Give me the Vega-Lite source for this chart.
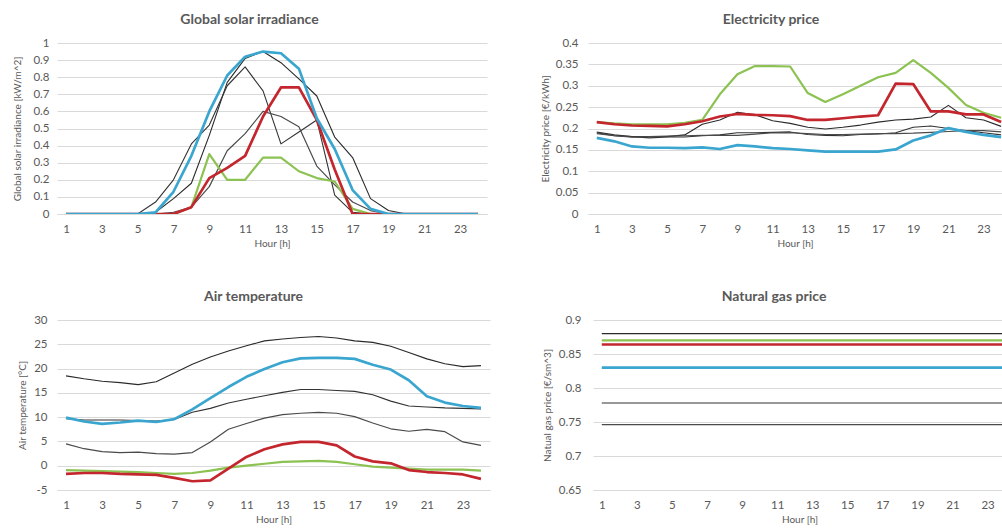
{
  "$schema": "https://vega.github.io/schema/vega-lite/v6.json",
  "background": "white",
  "padding": {"left": 12, "top": 13, "right": 0, "bottom": 0},
  "config": {
    "font": "Lato",
    "view": {"stroke": null},
    "axis": {"labelFont": "Lato", "labelFontSize": 11.5, "labelColor": "#595959", "titleFont": "Lato", "titleFontSize": 10, "titleFontWeight": "normal", "titleColor": "#595959", "ticks": false, "gridColor": "#d9d9d9", "domain": false, "format": "~g"},
    "axisX": {"domain": true, "domainColor": "#d9d9d9", "grid": false, "labelPadding": 9, "titlePadding": 4, "labelAngle": 0},
    "title": {"font": "Lato", "fontSize": 14, "fontWeight": "bold", "color": "#595959", "anchor": "middle", "frame": "bounds", "offset": 10},
    "line": {"strokeJoin": "round"}
  },
  "datasets": {
    "solar": [
      {"hour": 1, "K1": 0, "K2": 0, "K3": 0, "Green": 0, "Red": 0, "Blue": 0},
      {"hour": 2, "K1": 0, "K2": 0, "K3": 0, "Green": 0, "Red": 0, "Blue": 0},
      {"hour": 3, "K1": 0, "K2": 0, "K3": 0, "Green": 0, "Red": 0, "Blue": 0},
      {"hour": 4, "K1": 0, "K2": 0, "K3": 0, "Green": 0, "Red": 0, "Blue": 0},
      {"hour": 5, "K1": 0, "K2": 0, "K3": 0, "Green": 0, "Red": 0, "Blue": 0},
      {"hour": 6, "K1": 0.01, "K2": 0.07, "K3": 0, "Green": 0, "Red": 0, "Blue": 0.01},
      {"hour": 7, "K1": 0.09, "K2": 0.2, "K3": 0.01, "Green": 0, "Red": 0, "Blue": 0.13},
      {"hour": 8, "K1": 0.18, "K2": 0.41, "K3": 0.04, "Green": 0.04, "Red": 0.04, "Blue": 0.34},
      {"hour": 9, "K1": 0.46, "K2": 0.52, "K3": 0.16, "Green": 0.35, "Red": 0.21, "Blue": 0.6},
      {"hour": 10, "K1": 0.77, "K2": 0.75, "K3": 0.37, "Green": 0.2, "Red": 0.27, "Blue": 0.81},
      {"hour": 11, "K1": 0.91, "K2": 0.86, "K3": 0.47, "Green": 0.2, "Red": 0.34, "Blue": 0.92},
      {"hour": 12, "K1": 0.95, "K2": 0.72, "K3": 0.6, "Green": 0.33, "Red": 0.57, "Blue": 0.95},
      {"hour": 13, "K1": 0.885, "K2": 0.41, "K3": 0.57, "Green": 0.33, "Red": 0.74, "Blue": 0.94},
      {"hour": 14, "K1": 0.79, "K2": 0.48, "K3": 0.51, "Green": 0.25, "Red": 0.74, "Blue": 0.85},
      {"hour": 15, "K1": 0.69, "K2": 0.55, "K3": 0.28, "Green": 0.21, "Red": 0.55, "Blue": 0.56},
      {"hour": 16, "K1": 0.45, "K2": 0.11, "K3": 0.17, "Green": 0.19, "Red": 0.26, "Blue": 0.38},
      {"hour": 17, "K1": 0.33, "K2": 0.01, "K3": 0.07, "Green": 0.03, "Red": 0, "Blue": 0.14},
      {"hour": 18, "K1": 0.09, "K2": 0, "K3": 0.02, "Green": 0, "Red": 0, "Blue": 0.03},
      {"hour": 19, "K1": 0.02, "K2": 0, "K3": 0, "Green": 0, "Red": 0, "Blue": 0},
      {"hour": 20, "K1": 0, "K2": 0, "K3": 0, "Green": 0, "Red": 0, "Blue": 0},
      {"hour": 21, "K1": 0, "K2": 0, "K3": 0, "Green": 0, "Red": 0, "Blue": 0},
      {"hour": 22, "K1": 0, "K2": 0, "K3": 0, "Green": 0, "Red": 0, "Blue": 0},
      {"hour": 23, "K1": 0, "K2": 0, "K3": 0, "Green": 0, "Red": 0, "Blue": 0},
      {"hour": 24, "K1": 0, "K2": 0, "K3": 0, "Green": 0, "Red": 0, "Blue": 0}
    ],
    "elec": [
      {"hour": 1, "K1": 0.19, "K2": 0.192, "K3": 0.188, "Green": 0.215, "Red": 0.215, "Blue": 0.178},
      {"hour": 2, "K1": 0.183, "K2": 0.185, "K3": 0.183, "Green": 0.212, "Red": 0.21, "Blue": 0.17},
      {"hour": 3, "K1": 0.181, "K2": 0.181, "K3": 0.18, "Green": 0.21, "Red": 0.207, "Blue": 0.158},
      {"hour": 4, "K1": 0.181, "K2": 0.178, "K3": 0.181, "Green": 0.21, "Red": 0.206, "Blue": 0.155},
      {"hour": 5, "K1": 0.181, "K2": 0.18, "K3": 0.182, "Green": 0.21, "Red": 0.205, "Blue": 0.155},
      {"hour": 6, "K1": 0.185, "K2": 0.18, "K3": 0.183, "Green": 0.213, "Red": 0.21, "Blue": 0.154},
      {"hour": 7, "K1": 0.21, "K2": 0.183, "K3": 0.184, "Green": 0.22, "Red": 0.217, "Blue": 0.156},
      {"hour": 8, "K1": 0.22, "K2": 0.185, "K3": 0.184, "Green": 0.28, "Red": 0.228, "Blue": 0.152},
      {"hour": 9, "K1": 0.238, "K2": 0.19, "K3": 0.184, "Green": 0.327, "Red": 0.234, "Blue": 0.161},
      {"hour": 10, "K1": 0.232, "K2": 0.19, "K3": 0.187, "Green": 0.346, "Red": 0.232, "Blue": 0.158},
      {"hour": 11, "K1": 0.218, "K2": 0.191, "K3": 0.19, "Green": 0.346, "Red": 0.231, "Blue": 0.154},
      {"hour": 12, "K1": 0.212, "K2": 0.192, "K3": 0.19, "Green": 0.345, "Red": 0.229, "Blue": 0.152},
      {"hour": 13, "K1": 0.203, "K2": 0.186, "K3": 0.188, "Green": 0.283, "Red": 0.22, "Blue": 0.149},
      {"hour": 14, "K1": 0.199, "K2": 0.184, "K3": 0.186, "Green": 0.262, "Red": 0.22, "Blue": 0.146},
      {"hour": 15, "K1": 0.203, "K2": 0.183, "K3": 0.186, "Green": 0.28, "Red": 0.224, "Blue": 0.146},
      {"hour": 16, "K1": 0.208, "K2": 0.186, "K3": 0.187, "Green": 0.3, "Red": 0.228, "Blue": 0.146},
      {"hour": 17, "K1": 0.215, "K2": 0.187, "K3": 0.188, "Green": 0.32, "Red": 0.231, "Blue": 0.146},
      {"hour": 18, "K1": 0.22, "K2": 0.19, "K3": 0.188, "Green": 0.33, "Red": 0.305, "Blue": 0.151},
      {"hour": 19, "K1": 0.222, "K2": 0.203, "K3": 0.189, "Green": 0.36, "Red": 0.304, "Blue": 0.172},
      {"hour": 20, "K1": 0.227, "K2": 0.206, "K3": 0.191, "Green": 0.33, "Red": 0.24, "Blue": 0.184},
      {"hour": 21, "K1": 0.254, "K2": 0.2, "K3": 0.193, "Green": 0.295, "Red": 0.24, "Blue": 0.201},
      {"hour": 22, "K1": 0.225, "K2": 0.195, "K3": 0.195, "Green": 0.255, "Red": 0.233, "Blue": 0.192},
      {"hour": 23, "K1": 0.22, "K2": 0.19, "K3": 0.195, "Green": 0.237, "Red": 0.233, "Blue": 0.185},
      {"hour": 24, "K1": 0.205, "K2": 0.185, "K3": 0.192, "Green": 0.225, "Red": 0.215, "Blue": 0.18}
    ],
    "temp": [
      {"hour": 1, "K1": 18.5, "K2": 9.7, "K3": 4.5, "Green": -0.9, "Red": -1.7, "Blue": 9.9},
      {"hour": 2, "K1": 17.9, "K2": 9.4, "K3": 3.5, "Green": -1.0, "Red": -1.5, "Blue": 9.1},
      {"hour": 3, "K1": 17.4, "K2": 9.4, "K3": 2.9, "Green": -1.1, "Red": -1.5, "Blue": 8.6},
      {"hour": 4, "K1": 17.1, "K2": 9.4, "K3": 2.7, "Green": -1.2, "Red": -1.7, "Blue": 8.9},
      {"hour": 5, "K1": 16.7, "K2": 9.3, "K3": 2.8, "Green": -1.3, "Red": -1.8, "Blue": 9.3},
      {"hour": 6, "K1": 17.3, "K2": 9.2, "K3": 2.5, "Green": -1.5, "Red": -1.9, "Blue": 9.0},
      {"hour": 7, "K1": 19.1, "K2": 9.5, "K3": 2.4, "Green": -1.7, "Red": -2.5, "Blue": 9.6},
      {"hour": 8, "K1": 20.9, "K2": 11.0, "K3": 2.7, "Green": -1.5, "Red": -3.2, "Blue": 11.6},
      {"hour": 9, "K1": 22.4, "K2": 11.8, "K3": 4.9, "Green": -1.0, "Red": -3.0, "Blue": 13.9},
      {"hour": 10, "K1": 23.6, "K2": 12.9, "K3": 7.5, "Green": -0.4, "Red": -0.6, "Blue": 16.2},
      {"hour": 11, "K1": 24.7, "K2": 13.7, "K3": 8.7, "Green": 0.0, "Red": 1.8, "Blue": 18.3},
      {"hour": 12, "K1": 25.7, "K2": 14.4, "K3": 9.8, "Green": 0.4, "Red": 3.4, "Blue": 19.9},
      {"hour": 13, "K1": 26.1, "K2": 15.1, "K3": 10.5, "Green": 0.8, "Red": 4.4, "Blue": 21.3},
      {"hour": 14, "K1": 26.4, "K2": 15.7, "K3": 10.8, "Green": 0.9, "Red": 4.9, "Blue": 22.1},
      {"hour": 15, "K1": 26.6, "K2": 15.7, "K3": 11.0, "Green": 1.0, "Red": 4.9, "Blue": 22.2},
      {"hour": 16, "K1": 26.3, "K2": 15.5, "K3": 10.8, "Green": 0.8, "Red": 4.2, "Blue": 22.2},
      {"hour": 17, "K1": 25.7, "K2": 15.3, "K3": 10.1, "Green": 0.3, "Red": 1.9, "Blue": 22.0},
      {"hour": 18, "K1": 25.4, "K2": 14.6, "K3": 8.8, "Green": -0.2, "Red": 0.9, "Blue": 20.8},
      {"hour": 19, "K1": 24.6, "K2": 13.3, "K3": 7.6, "Green": -0.4, "Red": 0.5, "Blue": 19.8},
      {"hour": 20, "K1": 23.3, "K2": 12.3, "K3": 7.1, "Green": -0.6, "Red": -0.9, "Blue": 17.6},
      {"hour": 21, "K1": 22.0, "K2": 12.1, "K3": 7.5, "Green": -0.8, "Red": -1.3, "Blue": 14.3},
      {"hour": 22, "K1": 21.0, "K2": 11.9, "K3": 7.0, "Green": -0.8, "Red": -1.5, "Blue": 13.0},
      {"hour": 23, "K1": 20.4, "K2": 11.8, "K3": 4.9, "Green": -0.8, "Red": -1.8, "Blue": 12.3},
      {"hour": 24, "K1": 20.6, "K2": 11.7, "K3": 4.2, "Green": -1.0, "Red": -2.7, "Blue": 11.9}
    ],
    "gas": [
      {"hour": 1, "K1": 0.88, "K2": 0.778, "K3": 0.746, "Green": 0.87, "Red": 0.864, "Blue": 0.83},
      {"hour": 2, "K1": 0.88, "K2": 0.778, "K3": 0.746, "Green": 0.87, "Red": 0.864, "Blue": 0.83},
      {"hour": 3, "K1": 0.88, "K2": 0.778, "K3": 0.746, "Green": 0.87, "Red": 0.864, "Blue": 0.83},
      {"hour": 4, "K1": 0.88, "K2": 0.778, "K3": 0.746, "Green": 0.87, "Red": 0.864, "Blue": 0.83},
      {"hour": 5, "K1": 0.88, "K2": 0.778, "K3": 0.746, "Green": 0.87, "Red": 0.864, "Blue": 0.83},
      {"hour": 6, "K1": 0.88, "K2": 0.778, "K3": 0.746, "Green": 0.87, "Red": 0.864, "Blue": 0.83},
      {"hour": 7, "K1": 0.88, "K2": 0.778, "K3": 0.746, "Green": 0.87, "Red": 0.864, "Blue": 0.83},
      {"hour": 8, "K1": 0.88, "K2": 0.778, "K3": 0.746, "Green": 0.87, "Red": 0.864, "Blue": 0.83},
      {"hour": 9, "K1": 0.88, "K2": 0.778, "K3": 0.746, "Green": 0.87, "Red": 0.864, "Blue": 0.83},
      {"hour": 10, "K1": 0.88, "K2": 0.778, "K3": 0.746, "Green": 0.87, "Red": 0.864, "Blue": 0.83},
      {"hour": 11, "K1": 0.88, "K2": 0.778, "K3": 0.746, "Green": 0.87, "Red": 0.864, "Blue": 0.83},
      {"hour": 12, "K1": 0.88, "K2": 0.778, "K3": 0.746, "Green": 0.87, "Red": 0.864, "Blue": 0.83},
      {"hour": 13, "K1": 0.88, "K2": 0.778, "K3": 0.746, "Green": 0.87, "Red": 0.864, "Blue": 0.83},
      {"hour": 14, "K1": 0.88, "K2": 0.778, "K3": 0.746, "Green": 0.87, "Red": 0.864, "Blue": 0.83},
      {"hour": 15, "K1": 0.88, "K2": 0.778, "K3": 0.746, "Green": 0.87, "Red": 0.864, "Blue": 0.83},
      {"hour": 16, "K1": 0.88, "K2": 0.778, "K3": 0.746, "Green": 0.87, "Red": 0.864, "Blue": 0.83},
      {"hour": 17, "K1": 0.88, "K2": 0.778, "K3": 0.746, "Green": 0.87, "Red": 0.864, "Blue": 0.83},
      {"hour": 18, "K1": 0.88, "K2": 0.778, "K3": 0.746, "Green": 0.87, "Red": 0.864, "Blue": 0.83},
      {"hour": 19, "K1": 0.88, "K2": 0.778, "K3": 0.746, "Green": 0.87, "Red": 0.864, "Blue": 0.83},
      {"hour": 20, "K1": 0.88, "K2": 0.778, "K3": 0.746, "Green": 0.87, "Red": 0.864, "Blue": 0.83},
      {"hour": 21, "K1": 0.88, "K2": 0.778, "K3": 0.746, "Green": 0.87, "Red": 0.864, "Blue": 0.83},
      {"hour": 22, "K1": 0.88, "K2": 0.778, "K3": 0.746, "Green": 0.87, "Red": 0.864, "Blue": 0.83},
      {"hour": 23, "K1": 0.88, "K2": 0.778, "K3": 0.746, "Green": 0.87, "Red": 0.864, "Blue": 0.83},
      {"hour": 24, "K1": 0.88, "K2": 0.778, "K3": 0.746, "Green": 0.87, "Red": 0.864, "Blue": 0.83}
    ]
  },
  "spacing": 41,
  "vconcat": [
    {
      "spacing": 53,
      "hconcat": [
        {
          "title": "Global solar irradiance",
          "width": 430, "height": 171,
          "data": {"name": "solar"},
          "transform": [{"fold": ["K1", "K2", "K3", "Green", "Red", "Blue"], "as": ["series", "value"]}],
          "mark": {"type": "line", "clip": true},
          "encoding": {
            "x": {"field": "hour", "type": "quantitative", "scale": {"domain": [0.5, 24.5], "nice": false, "zero": false}, "axis": {"values": [1, 3, 5, 7, 9, 11, 13, 15, 17, 19, 21, 23], "title": "Hour [h]"}},
            "y": {"field": "value", "type": "quantitative", "scale": {"domain": [0, 1], "nice": false}, "axis": {"values": [0, 0.1, 0.2, 0.3, 0.4, 0.5, 0.6, 0.7, 0.8, 0.9, 1], "title": "Global solar irradiance [kW/m^2]", "minExtent": 30, "maxExtent": 30, "titlePadding": 5, "labelPadding": 8}},
            "color": {"field": "series", "type": "nominal", "scale": {"domain": ["K1", "K2", "K3", "Green", "Red", "Blue"], "range": ["#2a2a2a", "#333333", "#4a4a4a", "#8cc251", "#c4262e", "#3aa6d0"]}, "legend": null},
            "strokeWidth": {"field": "series", "type": "nominal", "scale": {"type": "ordinal", "domain": ["K1", "K2", "K3", "Green", "Red", "Blue"], "range": [1.1, 1.1, 1.2, 2.2, 2.7, 2.7]}, "legend": null}
          }
        },
        {
          "title": "Electricity price",
          "width": 414, "height": 171,
          "data": {"name": "elec"},
          "transform": [{"fold": ["K1", "K2", "K3", "Green", "Red", "Blue"], "as": ["series", "value"]}],
          "mark": {"type": "line", "clip": true},
          "encoding": {
            "x": {"field": "hour", "type": "quantitative", "scale": {"domain": [0.5, 24.05], "nice": false, "zero": false}, "axis": {"values": [1, 3, 5, 7, 9, 11, 13, 15, 17, 19, 21, 23], "title": "Hour [h]"}},
            "y": {"field": "value", "type": "quantitative", "scale": {"domain": [0, 0.4], "nice": false}, "axis": {"values": [0, 0.05, 0.1, 0.15, 0.2, 0.25, 0.3, 0.35, 0.4], "title": "Electricity price [€/kWh]", "minExtent": 32, "maxExtent": 32, "titlePadding": 6, "labelPadding": 10}},
            "color": {"field": "series", "type": "nominal", "scale": {"domain": ["K1", "K2", "K3", "Green", "Red", "Blue"], "range": ["#2a2a2a", "#333333", "#4a4a4a", "#8cc251", "#c4262e", "#3aa6d0"]}, "legend": null},
            "strokeWidth": {"field": "series", "type": "nominal", "scale": {"type": "ordinal", "domain": ["K1", "K2", "K3", "Green", "Red", "Blue"], "range": [1.1, 1.1, 1.2, 2.2, 2.7, 2.7]}, "legend": null}
          }
        }
      ]
    },
    {
      "spacing": 52,
      "hconcat": [
        {
          "title": "Air temperature",
          "width": 433, "height": 170,
          "data": {"name": "temp"},
          "transform": [{"fold": ["K1", "K2", "K3", "Green", "Red", "Blue"], "as": ["series", "value"]}],
          "mark": {"type": "line", "clip": true},
          "encoding": {
            "x": {"field": "hour", "type": "quantitative", "scale": {"domain": [0.5, 24.5], "nice": false, "zero": false}, "axis": {"values": [1, 3, 5, 7, 9, 11, 13, 15, 17, 19, 21, 23], "title": "Hour [h]"}},
            "y": {"field": "value", "type": "quantitative", "scale": {"domain": [-5, 30], "nice": false, "zero": false}, "axis": {"values": [-5, 0, 5, 10, 15, 20, 25, 30], "labelExpr": "replace(datum.label, '−', '-')", "title": "Air temperature [°C]", "minExtent": 25, "maxExtent": 25, "titlePadding": 5, "labelPadding": 10}},
            "color": {"field": "series", "type": "nominal", "scale": {"domain": ["K1", "K2", "K3", "Green", "Red", "Blue"], "range": ["#2a2a2a", "#333333", "#4a4a4a", "#8cc251", "#c4262e", "#3aa6d0"]}, "legend": null},
            "strokeWidth": {"field": "series", "type": "nominal", "scale": {"type": "ordinal", "domain": ["K1", "K2", "K3", "Green", "Red", "Blue"], "range": [1.1, 1.1, 1.2, 2.2, 2.7, 2.7]}, "legend": null}
          }
        },
        {
          "title": "Natural gas price",
          "width": 413, "height": 170,
          "data": {"name": "gas"},
          "transform": [{"fold": ["K1", "K2", "K3", "Green", "Red", "Blue"], "as": ["series", "value"]}],
          "mark": {"type": "line", "clip": true},
          "encoding": {
            "x": {"field": "hour", "type": "quantitative", "scale": {"domain": [0.5, 24.05], "nice": false, "zero": false}, "axis": {"values": [1, 3, 5, 7, 9, 11, 13, 15, 17, 19, 21, 23], "title": "Hour [h]"}},
            "y": {"field": "value", "type": "quantitative", "scale": {"domain": [0.65, 0.9], "nice": false, "zero": false}, "axis": {"values": [0.65, 0.7, 0.75, 0.8, 0.85, 0.9], "title": "Natual gas price [€/sm^3]", "minExtent": 35, "maxExtent": 35, "titlePadding": 6, "labelPadding": 12}},
            "color": {"field": "series", "type": "nominal", "scale": {"domain": ["K1", "K2", "K3", "Green", "Red", "Blue"], "range": ["#2a2a2a", "#333333", "#4a4a4a", "#8cc251", "#c4262e", "#3aa6d0"]}, "legend": null},
            "strokeWidth": {"field": "series", "type": "nominal", "scale": {"type": "ordinal", "domain": ["K1", "K2", "K3", "Green", "Red", "Blue"], "range": [1.1, 1.1, 1.2, 2.2, 2.7, 2.7]}, "legend": null}
          }
        }
      ]
    }
  ]
}
